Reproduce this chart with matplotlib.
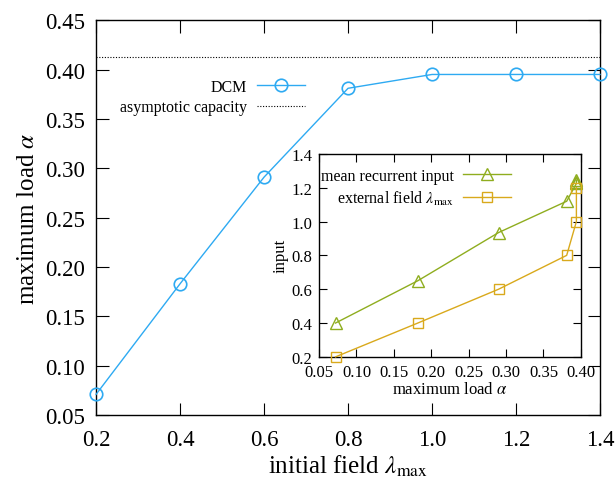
import matplotlib
matplotlib.use("Agg")
import matplotlib.pyplot as plt
import numpy as np

plt.rcParams['font.family'] = ['Liberation Serif', 'DejaVu Serif']
plt.rcParams['mathtext.fontset'] = 'stix'

# main data
lam = [0.2, 0.4, 0.6, 0.8, 1.0, 1.2, 1.4]
alpha_dcm = [0.071, 0.183, 0.291, 0.381, 0.395, 0.395, 0.395]
asymptotic = 0.4125

# inset data
alpha_rec = [0.072, 0.182, 0.290, 0.381, 0.394, 0.394, 0.394]
mean_rec = [0.40, 0.65, 0.935, 1.12, 1.225, 1.235, 1.245]
alpha_ext = [0.072, 0.182, 0.290, 0.381, 0.394, 0.394]
ext_field = [0.2, 0.4, 0.6, 0.8, 1.0, 1.2]

main_xticks = [0.2, 0.4, 0.6, 0.8, 1.0, 1.2, 1.4]
main_yticks = [0.05, 0.10, 0.15, 0.20, 0.25, 0.30, 0.35, 0.40, 0.45]
in_xticks = [0.05, 0.10, 0.15, 0.20, 0.25, 0.30, 0.35, 0.40]
in_yticks = [0.2, 0.4, 0.6, 0.8, 1.0, 1.2, 1.4]

blue = '#2eaaf2'
green = '#8fad1f'
gold = '#d9a91c'

fig = plt.figure(figsize=(6.16, 4.81), dpi=100)
ax = fig.add_axes([0.156, 0.135, 0.818, 0.821])
ax.plot(lam, alpha_dcm, '-o', color=blue, lw=1.0, ms=9, mfc='none', mew=1.2,
        label='DCM', clip_on=False, zorder=3)
ax.axhline(asymptotic, color='black', lw=0.8, ls=(0, (1, 1.5)), label='asymptotic capacity')
ax.set_xlim(0.2, 1.4)
ax.set_ylim(0.05, 0.45)
ax.set_xticks(main_xticks)
ax.set_xticklabels([f'{v:.1f}' for v in main_xticks])
ax.set_yticks(main_yticks)
ax.set_yticklabels([f'{v:.2f}' for v in main_yticks])
ax.tick_params(direction='in', top=True, right=True, labelsize=16.5, length=9, width=0.8)
ax.tick_params(axis='x', pad=10)
ax.tick_params(axis='y', pad=8)
ax.set_xlabel(r'initial field $\lambda_{\rm max}$', fontsize=18, labelpad=2)
ax.set_ylabel(r'maximum load $\alpha$', fontsize=18, labelpad=4)
for s in ax.spines.values():
    s.set_linewidth(1.0)
leg = ax.legend(loc='upper right', bbox_to_anchor=(0.43, 0.872), markerfirst=False,
                frameon=False, fontsize=11.5, handlelength=3.0, handletextpad=0.6,
                labelspacing=0.3, borderpad=0)

# inset
ia = fig.add_axes([0.518, 0.256, 0.425, 0.422])
ia.plot(alpha_rec, mean_rec, '-^', color=green, lw=1.0, ms=8, mfc='none', mew=1.0,
        label='mean recurrent input', clip_on=False, zorder=3)
ia.plot(alpha_ext, ext_field, '-s', color=gold, lw=1.0, ms=7.2, mfc='none', mew=1.0,
        label=r'external field $\lambda_{\rm max}$', clip_on=False, zorder=3)
ia.set_xlim(0.05, 0.40)
ia.set_ylim(0.2, 1.4)
ia.set_xticks(in_xticks)
ia.set_xticklabels([f'{v:.2f}' for v in in_xticks])
ia.set_yticks(in_yticks)
ia.set_yticklabels([f'{v:.1f}' for v in in_yticks])
ia.tick_params(direction='in', top=True, right=True, labelsize=12, length=6, width=0.8)
ia.tick_params(axis='x', pad=5)
ia.tick_params(axis='y', pad=5)
ia.set_xlabel(r'maximum load $\alpha$', fontsize=12, labelpad=1)
ia.set_ylabel('input', fontsize=12, labelpad=2)
for s in ia.spines.values():
    s.set_linewidth(1.0)
ia.legend(loc='upper right', bbox_to_anchor=(0.765, 0.97), markerfirst=False,
          frameon=False, fontsize=11.5, handlelength=3.0, handletextpad=0.6,
          labelspacing=0.3, borderpad=0)

fig.savefig('out.png', dpi=100)
